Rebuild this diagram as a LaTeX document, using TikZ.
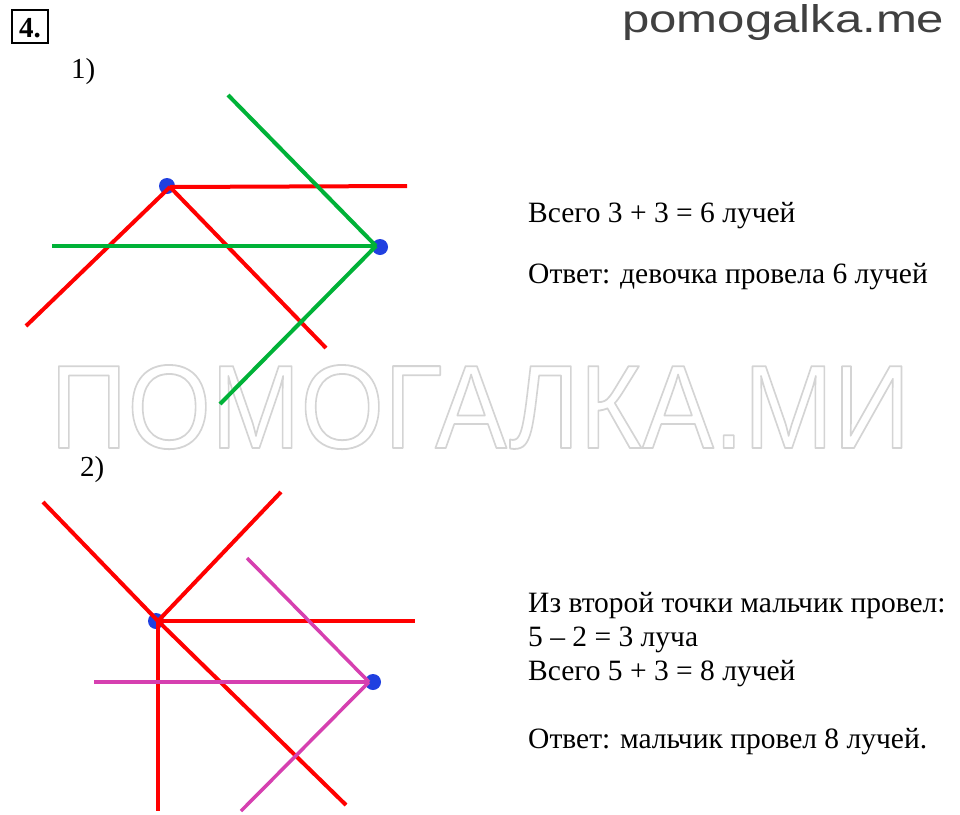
\documentclass[tikz,border=0pt]{standalone}
\usepackage{fontspec}
\setmainfont{Liberation Serif}
\newfontfamily\lsans{Liberation Sans}
\usepackage{graphicx}
\definecolor{rayred}{RGB}{255,0,0}
\definecolor{raygreen}{RGB}{0,178,56}
\definecolor{raymag}{RGB}{214,64,176}
\definecolor{dotblue}{RGB}{32,64,224}
\definecolor{sitegray}{RGB}{64,64,64}
\definecolor{wmgray}{RGB}{212,212,212}
\tikzset{
  redray/.style={draw=rayred, line width=4pt},
  greenray/.style={draw=raygreen, line width=4pt},
  magray/.style={draw=raymag, line width=3.5pt},
  dot/.style={circle, fill=dotblue, inner sep=0pt, minimum size=16pt},
  body/.style={anchor=base west, inner sep=0pt, font=\fontsize{29.5}{34}\selectfont},
  lbl/.style={anchor=base west, inner sep=0pt, font=\fontsize{29}{34}\selectfont}
}
\begin{document}
\begin{tikzpicture}[x=1pt,y=-1pt]
\useasboundingbox (0,0) rectangle (960,814);
\fill[white] (0,0) rectangle (960,814);

% watermark (outlined text)
\node[anchor=base west, inner sep=0pt, text=wmgray] (wmark) at (50,448)
  {\resizebox{860pt}{83pt}{\lsans\special{pdf:literal direct 1 Tr 0.15 w 1 j}ПОМОГАЛКА.МИ\special{pdf:literal direct 0 Tr 0 j}}};

% header
\node[anchor=base west, inner sep=0pt, text=sitegray] (site) at (622,32)
  {\resizebox{322pt}{28pt}{\lsans pomogalka.me}};
\node[draw=black, line width=2pt, minimum width=36pt, minimum height=33pt, inner sep=0pt] (num) at (30,26.5) {};
\node[anchor=base, inner sep=0pt, font=\fontsize{29}{30}\selectfont\bfseries] (numt) at (30,37) {4.};
\node[lbl] (l1) at (71,78) {1)};
\node[lbl] (l2) at (80,476) {2)};

% part 1
\node[dot] (d1) at (167,186) {};
\node[dot] (d2) at (380,247) {};
\coordinate (P1) at (170,187);
\coordinate (Q1) at (376,246);
\coordinate (a1) at (407,186);
\coordinate (a2) at (26,326);
\coordinate (a3) at (326,348);
\coordinate (b1) at (52,246);
\coordinate (b2) at (228,95);
\coordinate (b3) at (220,404);
\draw[redray] (P1) -- (a1);
\draw[redray] (P1) -- (a2);
\draw[redray] (P1) -- (a3);
\draw[greenray] (Q1) -- (b1);
\draw[greenray] (Q1) -- (b2);
\draw[greenray] (Q1) -- (b3);

% part 2
\node[dot] (d3) at (156,621) {};
\node[dot] (d4) at (373,682) {};
\coordinate (P2) at (158,621);
\coordinate (Q2) at (369,682);
\coordinate (c1) at (43,502);
\coordinate (c2) at (281,492);
\coordinate (c3) at (415,621);
\coordinate (c4) at (158,811);
\coordinate (c5) at (346,805);
\coordinate (e1) at (94,682);
\coordinate (e2) at (247,558);
\coordinate (e3) at (241,811);
\draw[redray] (P2) -- (c1);
\draw[redray] (P2) -- (c2);
\draw[redray] (P2) -- (c3);
\draw[redray] (P2) -- (c4);
\draw[redray] (P2) -- (c5);
\draw[magray] (Q2) -- (e1);
\draw[magray] (Q2) -- (e2);
\draw[magray] (Q2) -- (e3);

% texts
\node[body] (t1) at (528,222) {Всего 3 + 3 = 6 лучей};
\node[body] (t2) at (528,283) {Ответ: девочка провела 6 лучей};
\node[body] (t3) at (528,612) {Из второй точки мальчик провел:};
\node[body] (t4) at (528,646) {5 – 2 = 3 луча};
\node[body] (t5) at (528,680) {Всего 5 + 3 = 8 лучей};
\node[body] (t6) at (528,748) {Ответ: мальчик провел 8 лучей.};
\end{tikzpicture}
\end{document}
